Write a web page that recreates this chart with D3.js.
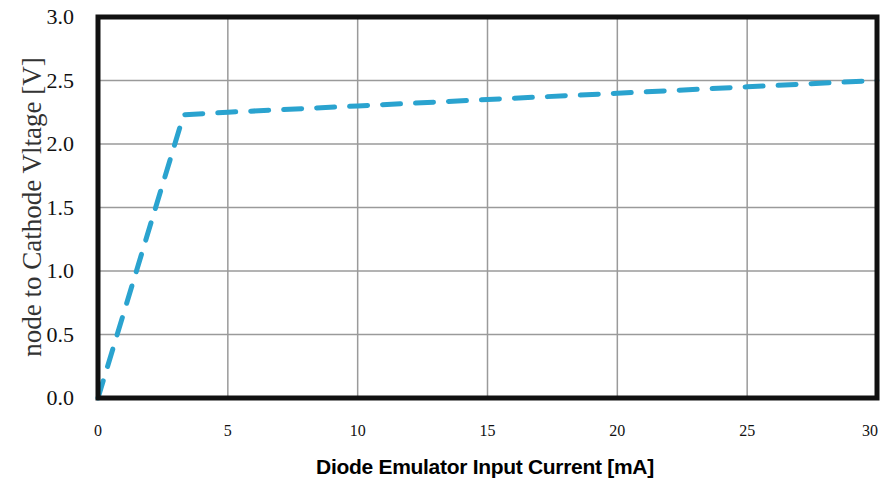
<!DOCTYPE html>
<html lang="en">
<head>
    <meta charset="utf-8">
    <script src="https://cdn.jsdelivr.net/npm/d3@7"></script>
    <style>
        body { margin: 0; background: #fff; }
        .tick-y { font-family: "Liberation Serif", "Times New Roman", serif; font-size: 22px; fill: #111; }
        .tick-x { font-family: "Liberation Serif", "Times New Roman", serif; font-size: 16px; fill: #111; }
    </style>
</head>
<body>
<script>
    // values
    let current = [0, 3.3, 5, 10, 15, 20, 25, 30];
    let voltage = [0, 2.23, 2.25, 2.3, 2.35, 2.4, 2.45, 2.5];
    let xTicks = [0, 5, 10, 15, 20, 25, 30];
    let yTicks = [0, 0.5, 1.0, 1.5, 2.0, 2.5, 3.0];

    let width = 883, height = 489;
    let plotLeft = 98, plotRight = 877, plotTop = 17, plotBottom = 398;

    let svg = d3.select('body').append('svg')
        .attr('width', width).attr('height', height);

    let x = d3.scaleLinear().domain([0, 30]).range([plotLeft, plotRight]);
    let y = d3.scaleLinear().domain([0, 3]).range([plotBottom, plotTop]);

    // grid
    svg.append('g').selectAll('line')
        .data(xTicks.slice(1, -1)).enter().append('line')
        .attr('x1', d => x(d)).attr('x2', d => x(d))
        .attr('y1', plotTop).attr('y2', plotBottom)
        .attr('stroke', '#9a9a9a').attr('stroke-width', 1.5);
    svg.append('g').selectAll('line')
        .data(yTicks.slice(1, -1)).enter().append('line')
        .attr('x1', plotLeft).attr('x2', plotRight)
        .attr('y1', d => y(d)).attr('y2', d => y(d))
        .attr('stroke', '#9a9a9a').attr('stroke-width', 1.5);

    // data line
    let line = d3.line().x((d, i) => x(current[i])).y(d => y(d));
    svg.append('path')
        .attr('d', line(voltage))
        .attr('fill', 'none')
        .attr('stroke', '#2aa3cf')
        .attr('stroke-width', 5)
        .attr('stroke-dasharray', '18,15')
        .attr('stroke-linecap', 'round');

    // frame
    svg.append('rect')
        .attr('x', plotLeft).attr('y', plotTop)
        .attr('width', plotRight - plotLeft).attr('height', plotBottom - plotTop)
        .attr('fill', 'none').attr('stroke', '#111').attr('stroke-width', 5);

    // tick labels
    svg.append('g').selectAll('text')
        .data(yTicks).enter().append('text')
        .attr('class', 'tick-y')
        .attr('x', 74).attr('y', d => y(d) + 7)
        .attr('text-anchor', 'end')
        .text(d => d.toFixed(1));

    svg.append('g').selectAll('text')
        .data(xTicks).enter().append('text')
        .attr('class', 'tick-x')
        .attr('x', d => x(d) + (d === 30 ? -7 : 0)).attr('y', 436)
        .attr('text-anchor', 'middle')
        .text(d => d);

    // axis titles
    svg.append('text')
        .attr('x', 485).attr('y', 474)
        .attr('text-anchor', 'middle')
        .attr('font-family', '"Liberation Sans", Arial, sans-serif')
        .attr('font-weight', 'bold').attr('font-size', 21)
        .attr('letter-spacing', -0.3)
        .text('Diode Emulator Input Current [mA]');

    svg.append('text')
        .attr('transform', 'translate(41,207) rotate(-90)')
        .attr('text-anchor', 'middle')
        .attr('font-family', '"Liberation Serif", "Times New Roman", serif')
        .attr('font-size', 27).attr('fill', '#333')
        .text('node to Cathode Vltage  [V]');
</script>
</body>
</html>
